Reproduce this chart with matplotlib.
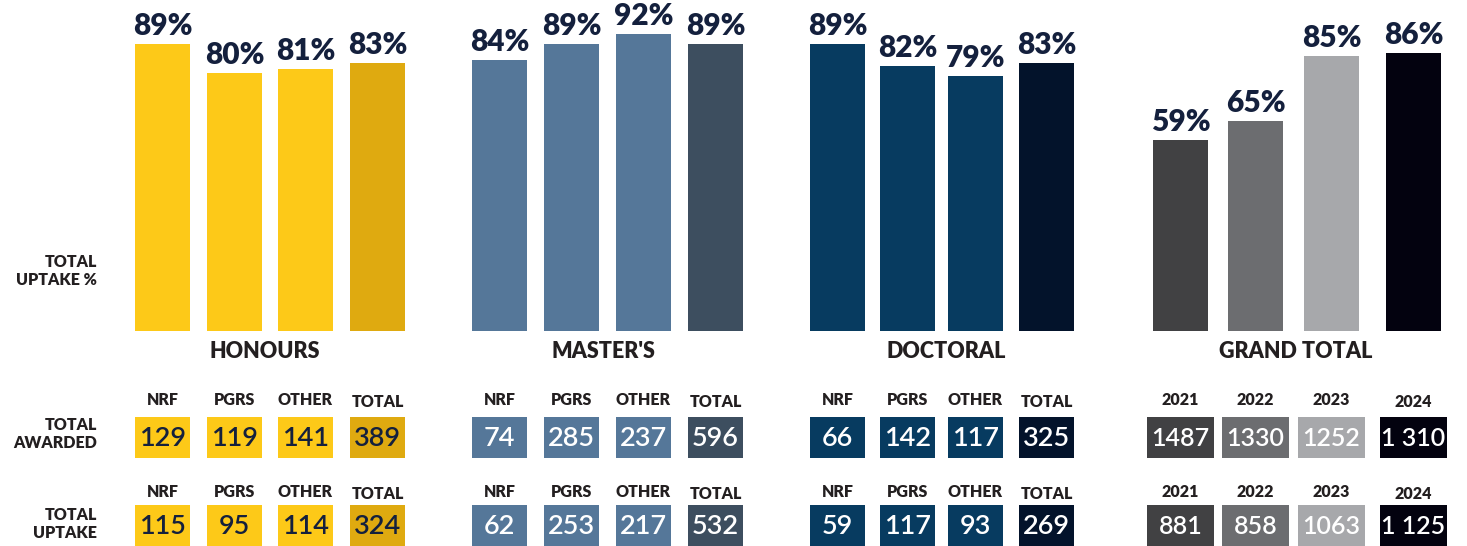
import matplotlib.pyplot as plt
from matplotlib.patches import Rectangle

plt.rcParams['font.family'] = ['Lato', 'DejaVu Sans']

groups = ['HONOURS', "MASTER'S", 'DOCTORAL', 'GRAND TOTAL']
funds = ['NRF', 'PGRS', 'OTHER', 'TOTAL']
years = ['2021', '2022', '2023', '2024']

honours_pct = [89, 80, 81, 83]
masters_pct = [84, 89, 92, 89]
doctoral_pct = [89, 82, 79, 83]
grand_pct = [59, 65, 85, 86]

honours_awarded = ['129', '119', '141', '389']
masters_awarded = ['74', '285', '237', '596']
doctoral_awarded = ['66', '142', '117', '325']
grand_awarded = ['1487', '1330', '1252', '1 310']

honours_uptake = ['115', '95', '114', '324']
masters_uptake = ['62', '253', '217', '532']
doctoral_uptake = ['59', '117', '93', '269']
grand_uptake = ['881', '858', '1063', '1 125']

honours_colors = ['#fdc918', '#fdc918', '#fdc918', '#dfaa10']
masters_colors = ['#557799', '#557799', '#557799', '#3d4e5f']
doctoral_colors = ['#073b60', '#073b60', '#073b60', '#03132b']
grand_colors = ['#414143', '#6c6d70', '#a7a8ab', '#03020f']

pct_series = [honours_pct, masters_pct, doctoral_pct, grand_pct]
awarded_series = [honours_awarded, masters_awarded, doctoral_awarded, grand_awarded]
uptake_series = [honours_uptake, masters_uptake, doctoral_uptake, grand_uptake]
color_series = [honours_colors, masters_colors, doctoral_colors, grand_colors]
header_series = [funds, funds, funds, years]

# layout (pixels on a 1467 x 546 canvas)
W, H = 1467, 546
centers = [[162.5, 234.5, 305.5, 377.5],
           [499.5, 571.5, 643.5, 715.5],
           [837.5, 907.5, 975.5, 1046.5],
           [1180.5, 1255.5, 1331.5, 1413.5]]
bar_w = 55
box_w = [55, 55, 55, 67]
box_font = [19.5, 19.5, 19.5, 18]
base_y = 331
px_per_pct = 3.23

navy = '#14203d'
label_dark = '#231f20'

fig = plt.figure(figsize=(W / 100, H / 100), dpi=100)

# bar panel
ax = fig.add_axes([0, 1 - base_y / H, 1, base_y / H])
ax.set_xlim(0, W)
ax.set_ylim(0, base_y / px_per_pct)
ax.axis('off')

for g in range(4):
    ax.bar(centers[g], pct_series[g], width=bar_w, color=color_series[g])
    for x, v in zip(centers[g], pct_series[g]):
        ax.annotate(f'{v}%', (x, v), xytext=(0, 6.5), textcoords='offset points',
                    ha='center', va='baseline', fontsize=21.5, fontweight='heavy', color=navy)

# overlay in pixel coords for the tables and labels
ov = fig.add_axes([0, 0, 1, 1])
ov.set_xlim(0, W)
ov.set_ylim(H, 0)
ov.axis('off')

group_label_x = [265, 603, 946, 1296]
for g, name in enumerate(groups):
    ov.text(group_label_x[g], 352, name, ha='center', va='center',
            fontsize=15.5, fontweight='heavy', color=label_dark)

left_labels = [('TOTAL\nUPTAKE %', 271), ('TOTAL\nAWARDED', 434), ('TOTAL\nUPTAKE', 524)]
for txt, y in left_labels:
    ov.text(97, y, txt, ha='right', va='center', fontsize=11.5,
            fontweight='heavy', color=label_dark, linespacing=1.1)

rows = [(awarded_series, 400, 417), (uptake_series, 492, 505)]
for series, head_y, box_top in rows:
    for g in range(4):
        bw = box_w[g]
        for i, x in enumerate(centers[g]):
            dy = 2 if i == 3 else 0
            ov.text(x, head_y + dy, header_series[g][i], ha='center', va='center',
                    fontsize=11.5, fontweight='heavy', color=label_dark)
            col = color_series[g][i]
            ov.add_patch(Rectangle((x - bw / 2, box_top), bw, 41, color=col, lw=0))
            tc = navy if g == 0 else 'white'
            ov.text(x, box_top + 21, series[g][i], ha='center', va='center',
                    fontsize=box_font[g], fontweight='semibold', color=tc)

fig.savefig('out.png', dpi=100)
